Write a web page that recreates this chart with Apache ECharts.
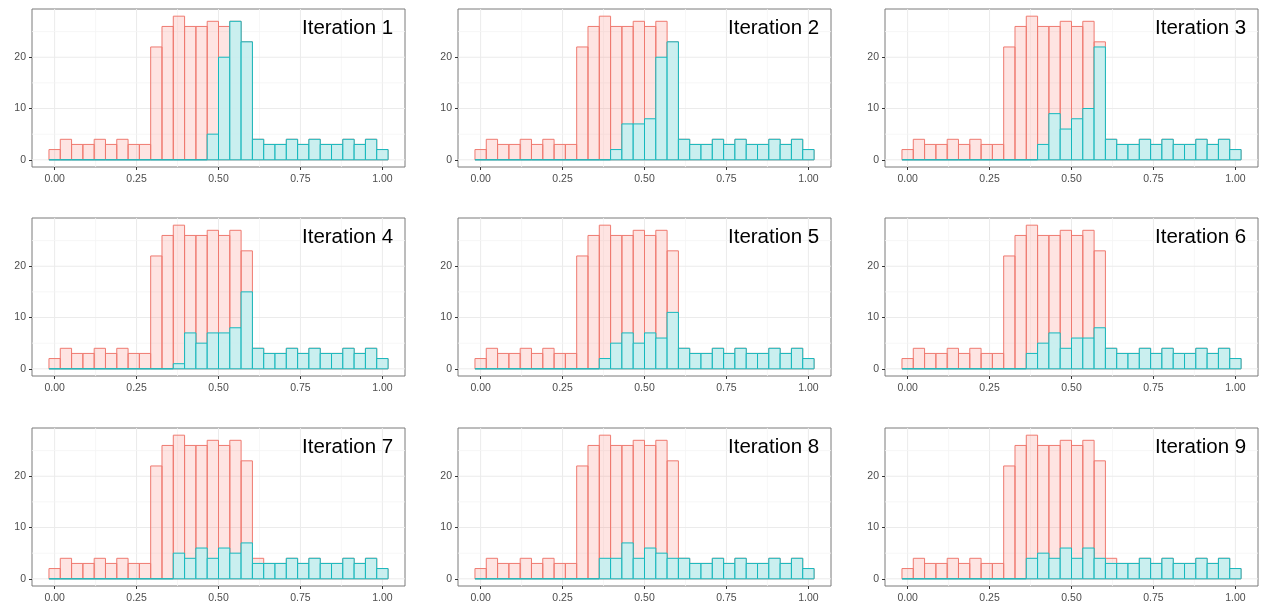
<!DOCTYPE html>
<html>
<head>
<meta charset="utf-8">
<script src="https://cdn.jsdelivr.net/npm/echarts@6/dist/echarts.min.js"></script>
<style>
html, body { margin: 0; padding: 0; background: #fff; }
#main { width: 1267px; height: 616px; }
</style>
</head>
<body>
<div id="main"></div>
<script>
// histogram bins: 30 bins over [0, 1], centres at the range ends (ggplot default)
var binCount = 30;
var binLo = 0, binHi = 1;

// all samples (red)
var allCounts = [2, 4, 3, 3, 4, 3, 4, 3, 3, 22, 26, 28, 26, 26, 27, 26, 27, 23, 4, 3, 3, 4, 3, 4, 3, 3, 4, 3, 4, 2];

// kept samples per iteration (cyan)
var iter1 = [0, 0, 0, 0, 0, 0, 0, 0, 0, 0, 0, 0, 0, 0, 5, 20, 27, 23, 4, 3, 3, 4, 3, 4, 3, 3, 4, 3, 4, 2];
var iter2 = [0, 0, 0, 0, 0, 0, 0, 0, 0, 0, 0, 0, 2, 7, 7, 8, 20, 23, 4, 3, 3, 4, 3, 4, 3, 3, 4, 3, 4, 2];
var iter3 = [0, 0, 0, 0, 0, 0, 0, 0, 0, 0, 0, 0, 3, 9, 6, 8, 10, 22, 4, 3, 3, 4, 3, 4, 3, 3, 4, 3, 4, 2];
var iter4 = [0, 0, 0, 0, 0, 0, 0, 0, 0, 0, 0, 1, 7, 5, 7, 7, 8, 15, 4, 3, 3, 4, 3, 4, 3, 3, 4, 3, 4, 2];
var iter5 = [0, 0, 0, 0, 0, 0, 0, 0, 0, 0, 0, 2, 5, 7, 5, 7, 6, 11, 4, 3, 3, 4, 3, 4, 3, 3, 4, 3, 4, 2];
var iter6 = [0, 0, 0, 0, 0, 0, 0, 0, 0, 0, 0, 3, 5, 7, 4, 6, 6, 8, 4, 3, 3, 4, 3, 4, 3, 3, 4, 3, 4, 2];
var iter7 = [0, 0, 0, 0, 0, 0, 0, 0, 0, 0, 0, 5, 4, 6, 4, 6, 5, 7, 3, 3, 3, 4, 3, 4, 3, 3, 4, 3, 4, 2];
var iter8 = [0, 0, 0, 0, 0, 0, 0, 0, 0, 0, 0, 4, 4, 7, 4, 6, 5, 4, 4, 3, 3, 4, 3, 4, 3, 3, 4, 3, 4, 2];
var iter9 = [0, 0, 0, 0, 0, 0, 0, 0, 0, 0, 0, 4, 5, 4, 6, 4, 6, 4, 3, 3, 3, 4, 3, 4, 3, 3, 4, 3, 4, 2];
var iterations = [iter1, iter2, iter3, iter4, iter5, iter6, iter7, iter8, iter9];
var panelTitles = ['Iteration 1', 'Iteration 2', 'Iteration 3', 'Iteration 4', 'Iteration 5',
    'Iteration 6', 'Iteration 7', 'Iteration 8', 'Iteration 9'];

// axis breaks
var xBreaks = [0, 0.25, 0.5, 0.75, 1];
var xMinorBreaks = [0.125, 0.375, 0.625, 0.875];
var xLabels = ['0.00', '0.25', '0.50', '0.75', '1.00'];
var yBreaks = [0, 10, 20];
var yMinorBreaks = [5, 15, 25];

var binWidth = (binHi - binLo) / (binCount - 1);
var binCenters = [];
for (var b = 0; b < binCount; b++) {
    binCenters.push(binLo + b * binWidth);
}

// panel layout (px)
var colLeft = [32, 458, 885];
var rowTop = [9, 218, 428];
var panelW = 373, panelH = 158;
var xMin = -0.069, xMax = 1.069;
var yMin = -1.4, yMax = 29.4;
var font = 'Liberation Sans, Arial, Helvetica, sans-serif';

function histData(counts) {
    var out = [];
    for (var i = 0; i < counts.length; i++) {
        out.push([binCenters[i], counts[i]]);
    }
    return out;
}

function histRender(stroke, fill) {
    return function (params, api) {
        var x = api.value(0), c = api.value(1);
        var p0 = api.coord([x - binWidth / 2, c]);
        var p1 = api.coord([x + binWidth / 2, 0]);
        return {
            type: 'rect',
            shape: { x: p0[0], y: p0[1], width: p1[0] - p0[0], height: p1[1] - p0[1] },
            style: { fill: fill, stroke: stroke, lineWidth: 1 }
        };
    };
}

function vLineRender(params, api) {
    var cs = params.coordSys;
    var p = api.coord([api.value(0), 0]);
    var major = api.value(1) === 1;
    return {
        type: 'line',
        shape: { x1: p[0], y1: cs.y, x2: p[0], y2: cs.y + cs.height },
        style: { stroke: major ? '#ebebeb' : '#f5f5f5', lineWidth: major ? 1 : 0.8 },
        silent: true
    };
}

function hLineRender(params, api) {
    var cs = params.coordSys;
    var p = api.coord([0, api.value(0)]);
    var major = api.value(1) === 1;
    return {
        type: 'line',
        shape: { x1: cs.x, y1: p[1], x2: cs.x + cs.width, y2: p[1] },
        style: { stroke: major ? '#ebebeb' : '#f5f5f5', lineWidth: major ? 1 : 0.8 },
        silent: true
    };
}

var vLines = xBreaks.map(function (v) { return [v, 1]; }).concat(xMinorBreaks.map(function (v) { return [v, 0]; }));
var hLines = yBreaks.map(function (v) { return [v, 1]; }).concat(yMinorBreaks.map(function (v) { return [v, 0]; }));

var grids = [], xAxes = [], yAxes = [], series = [], titles = [];
for (var p = 0; p < 9; p++) {
    var r = Math.floor(p / 3), c = p % 3;
    grids.push({
        left: colLeft[c], top: rowTop[r], width: panelW, height: panelH,
        show: true, borderColor: '#7a7a7a', borderWidth: 1, backgroundColor: '#fff'
    });
    xAxes.push({
        type: 'value', gridIndex: p, min: xMin, max: xMax, position: 'bottom',
        axisLine: { show: false, onZero: false },
        splitLine: { show: false },
        axisTick: { show: true, customValues: xBreaks, length: 3, lineStyle: { color: '#333' } },
        axisLabel: {
            customValues: xBreaks, margin: 7, color: '#4d4d4d', fontSize: 10.5, fontFamily: font,
            formatter: function (v) { return xLabels[xBreaks.indexOf(v)] || v.toFixed(2); }
        }
    });
    yAxes.push({
        type: 'value', gridIndex: p, min: yMin, max: yMax, position: 'left',
        axisLine: { show: false, onZero: false },
        splitLine: { show: false },
        axisTick: { show: true, customValues: yBreaks, length: 3, lineStyle: { color: '#333' } },
        axisLabel: { customValues: yBreaks, margin: 6, color: '#4d4d4d', fontSize: 10.5, fontFamily: font }
    });
    series.push({
        type: 'custom', xAxisIndex: p, yAxisIndex: p, z: 1, silent: true,
        data: vLines, renderItem: vLineRender
    });
    series.push({
        type: 'custom', xAxisIndex: p, yAxisIndex: p, z: 1, silent: true,
        data: hLines, renderItem: hLineRender
    });
    series.push({
        type: 'custom', xAxisIndex: p, yAxisIndex: p, z: 2,
        data: histData(allCounts),
        renderItem: histRender('#ef7a70', 'rgba(248,118,109,0.2)')
    });
    series.push({
        type: 'custom', xAxisIndex: p, yAxisIndex: p, z: 3,
        data: histData(iterations[p]),
        renderItem: histRender('#14b9be', 'rgba(196,240,241,0.9)')
    });
    titles.push({
        text: panelTitles[p],
        left: colLeft[c] + 270, top: rowTop[r] + 9, padding: 0,
        textStyle: { fontSize: 20.5, fontWeight: 'normal', color: '#000', fontFamily: font }
    });
}

var myChart = echarts.init(document.getElementById('main'));
myChart.setOption({
    animation: false,
    title: titles,
    grid: grids,
    xAxis: xAxes,
    yAxis: yAxes,
    series: series
});
</script>
</body>
</html>
